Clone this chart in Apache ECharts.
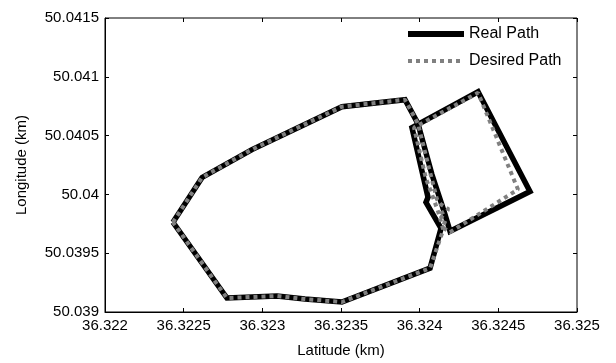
<!DOCTYPE html>
<html>
<head>
<meta charset="utf-8">
<script src="https://cdn.jsdelivr.net/npm/echarts@6/dist/echarts.min.js"></script>
<style>
  html, body { margin: 0; padding: 0; background: #fff; }
  #chart { width: 616px; height: 363px; }
</style>
</head>
<body>
<div id="chart"></div>
<script>
// Axis ticks (km)
const latTicks = [36.322, 36.3225, 36.323, 36.3235, 36.324, 36.3245, 36.325];
const lonTicks = [50.039, 50.0395, 50.04, 50.0405, 50.041, 50.0415];
const latTickLabels = ['36.322', '36.3225', '36.323', '36.3235', '36.324', '36.3245', '36.325'];
const lonTickLabels = ['50.039', '50.0395', '50.04', '50.0405', '50.041', '50.0415'];

// Real path: latitude / longitude of each recorded vertex
const realLat = [
  36.322432, 36.322617, 36.322934, 36.323239, 36.323506, 36.323907,
  36.323989, 36.324078, 36.324155, 36.324193, 36.324701, 36.324371,
  36.323951, 36.324053, 36.324040, 36.324136, 36.324066, 36.323506,
  36.323271, 36.323093, 36.322775, 36.322432
];
const realLon = [
  50.039763, 50.040144, 50.040381, 50.040576, 50.040746, 50.040805,
  50.040602, 50.040169, 50.039856, 50.039686, 50.040025, 50.040873,
  50.040568, 50.039975, 50.039932, 50.039712, 50.039373, 50.039085,
  50.039110, 50.039136, 50.039119, 50.039763
];

// Desired path waypoints
const desiredLat = [
  36.322432, 36.322617, 36.322934, 36.323239, 36.323506, 36.323907,
  36.323989, 36.324060, 36.324110, 36.324135, 36.324185, 36.324120,
  36.324165, 36.324145, 36.324193, 36.324625, 36.324371, 36.323964,
  36.324040, 36.324085, 36.324118, 36.324150, 36.324066, 36.323506,
  36.323271, 36.323093, 36.322775, 36.322432
];
const desiredLon = [
  50.039763, 50.040144, 50.040381, 50.040576, 50.040746, 50.040805,
  50.040602, 50.040220, 50.039958, 50.039915, 50.039873, 50.039830,
  50.039780, 50.039720, 50.039678, 50.040042, 50.040864, 50.040568,
  50.040135, 50.039975, 50.039850, 50.039700, 50.039373, 50.039085,
  50.039110, 50.039136, 50.039119, 50.039763
];

const realData = realLat.map((v, i) => [v, realLon[i]]);
const desiredData = desiredLat.map((v, i) => [v, desiredLon[i]]);

function tickLabel(ticks, labels) {
  return function (v) {
    let best = 0;
    for (let i = 1; i < ticks.length; i++) {
      if (Math.abs(ticks[i] - v) < Math.abs(ticks[best] - v)) best = i;
    }
    return labels[best];
  };
}

const font = 'Liberation Sans, Arial, sans-serif';
const fs = 15;
const tickStyle = { inside: true, length: 4, lineStyle: { color: '#000', width: 1 } };

const chart = echarts.init(document.getElementById('chart'));
chart.setOption({
  animation: false,
  backgroundColor: '#fff',
  textStyle: { fontFamily: font },
  grid: {
    left: 105, right: 39, top: 18, bottom: 50,
    show: true, borderColor: '#000', borderWidth: 1, backgroundColor: 'transparent'
  },
  legend: {
    orient: 'vertical',
    left: 405, top: 26, padding: 0,
    itemWidth: 56, itemHeight: 14, itemGap: 11,
    itemStyle: { opacity: 0 },
    textStyle: { fontFamily: font, fontSize: 16, color: '#000' },
    data: [
      { name: 'Real Path', lineStyle: { width: 6 } },
      { name: 'Desired Path', lineStyle: { width: 4 } }
    ]
  },
  xAxis: [{
    type: 'value', min: 36.322, max: 36.325, interval: 0.0005,
    name: 'Latitude (km)', nameLocation: 'middle', nameGap: 31,
    nameTextStyle: { fontFamily: font, fontSize: fs, color: '#000' },
    axisLine: { show: true, lineStyle: { color: '#000', width: 1 } },
    axisTick: tickStyle,
    splitLine: { show: false },
    axisLabel: { formatter: tickLabel(latTicks, latTickLabels), fontFamily: font, fontSize: fs, color: '#000', margin: 6 }
  }, {
    type: 'value', position: 'top', min: 36.322, max: 36.325, interval: 0.0005,
    axisLine: { show: false }, axisTick: tickStyle, axisLabel: { show: false }, splitLine: { show: false }
  }],
  yAxis: [{
    type: 'value', min: 50.039, max: 50.0415, interval: 0.0005,
    name: 'Longitude (km)', nameLocation: 'middle', nameGap: 76,
    nameTextStyle: { fontFamily: font, fontSize: fs, color: '#000' },
    axisLine: { show: true, lineStyle: { color: '#000', width: 1 } },
    axisTick: tickStyle,
    splitLine: { show: false },
    axisLabel: { formatter: tickLabel(lonTicks, lonTickLabels), fontFamily: font, fontSize: fs, color: '#000', margin: 6 }
  }, {
    type: 'value', position: 'right', min: 50.039, max: 50.0415, interval: 0.0005,
    axisLine: { show: false }, axisTick: tickStyle, axisLabel: { show: false }, splitLine: { show: false }
  }],
  series: [{
    name: 'Real Path', type: 'line', data: realData,
    xAxisIndex: 0, yAxisIndex: 0,
    showSymbol: false, symbol: 'none',
    lineStyle: { color: '#000', width: 5.5, join: 'miter' },
    itemStyle: { color: '#000' }
  }, {
    name: 'Desired Path', type: 'line', data: desiredData,
    xAxisIndex: 0, yAxisIndex: 0,
    showSymbol: false, symbol: 'none',
    lineStyle: { color: '#808080', width: 4, type: [4, 4] },
    itemStyle: { color: '#808080' }
  }]
});
</script>
</body>
</html>
